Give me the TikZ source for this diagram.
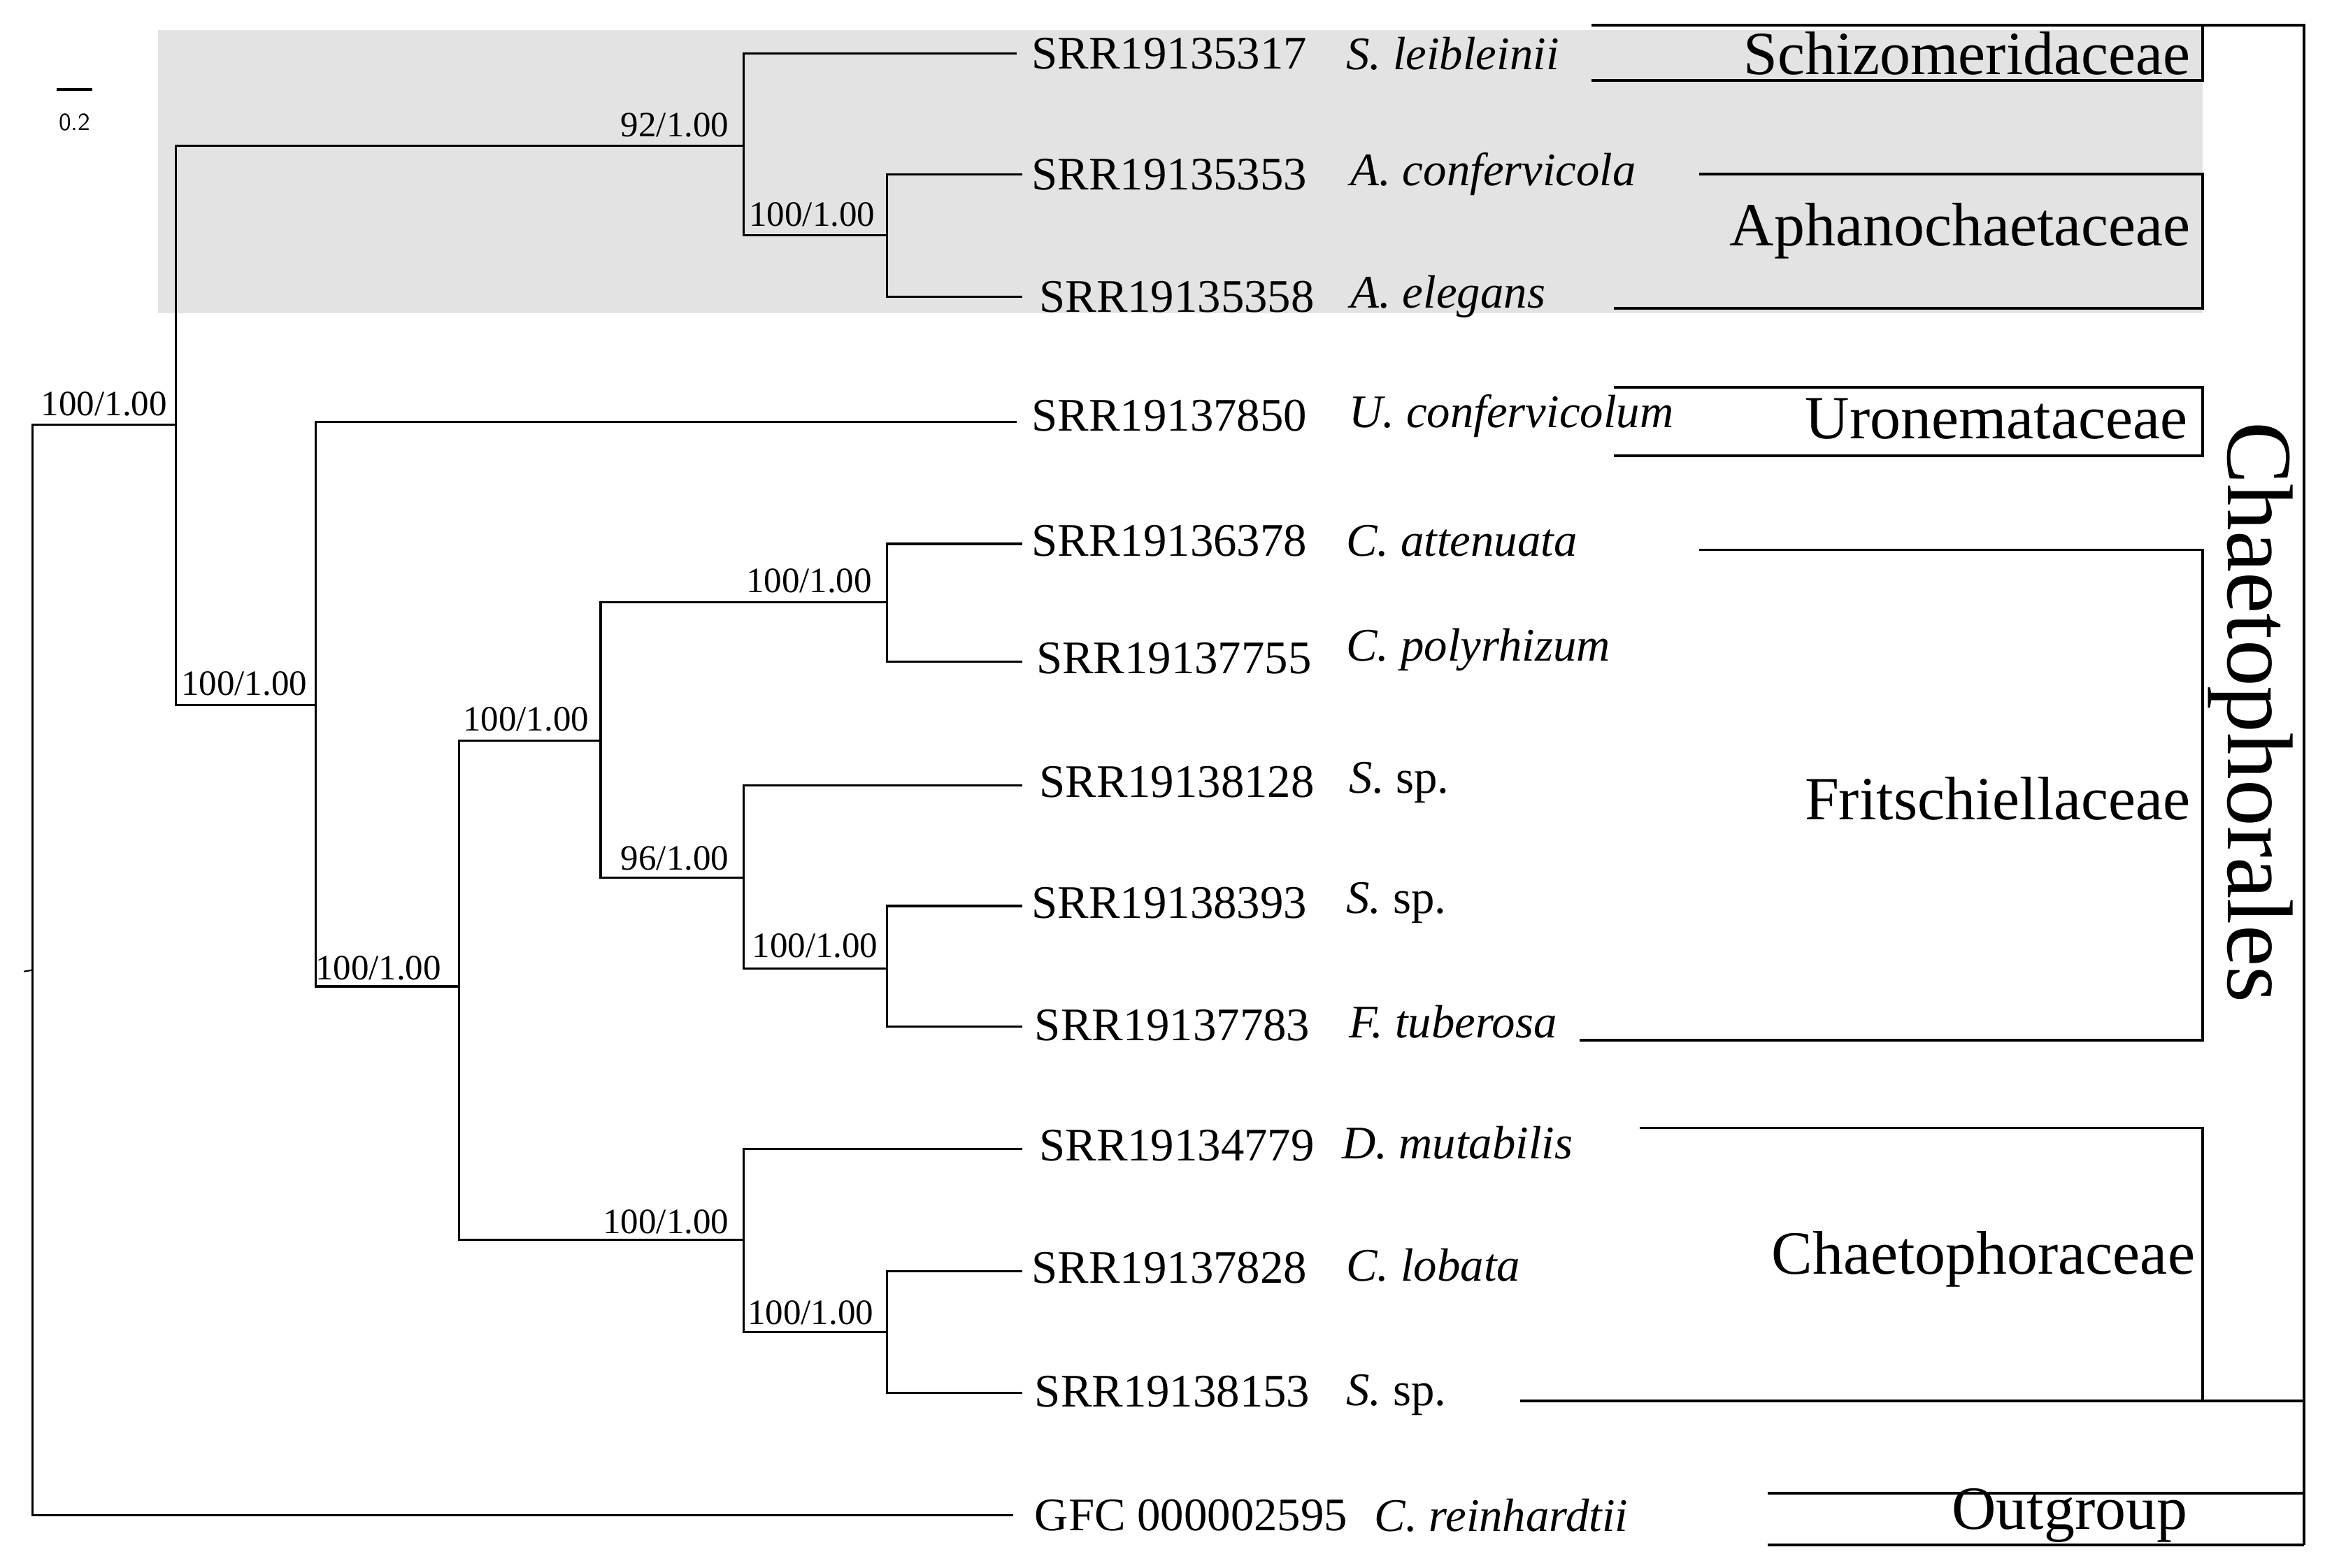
\documentclass[tikz,border=0pt]{standalone}
\usepackage{fontspec}
\setmainfont{Liberation Serif}
\begin{document}
\begin{tikzpicture}[x=0.2131mm,y=-0.2131mm,
  br/.style={line width=0.9pt},
  bx/.style={line width=1.1pt},
  acc/.style={anchor=west,inner sep=0pt,font=\fontsize{19}{19}\selectfont},
  sp/.style={anchor=west,inner sep=0pt,font=\fontsize{19}{19}\selectfont\itshape},
  sup/.style={anchor=south east,inner sep=1pt,font=\fontsize{14.5}{15}\selectfont},
  cl/.style={anchor=east,inner sep=0pt,font=\fontsize{25}{25}\selectfont}]
\useasboundingbox (0,0) rectangle (1560,1052.3);
\fill[gray!22] (106,20) rectangle (1478,210);
% scale bar
\draw[line width=1.2pt] (38,60) -- (62,60);
\node[font=\sffamily\fontsize{10}{10}\selectfont] (scl) at (50,82) {0.2};
% internal nodes
\coordinate (R) at (22,651);
\coordinate (A) at (118,285);
\coordinate (B) at (499,98);
\coordinate (C) at (595,158);
\coordinate (D) at (212,473);
\coordinate (E) at (308,662);
\coordinate (F) at (403,497);
\coordinate (G) at (595,404);
\coordinate (H) at (499,589);
\coordinate (I) at (595,650);
\coordinate (J) at (499,832);
\coordinate (K) at (595,894);
% tips
\coordinate (t1) at (682,36);
\coordinate (t2) at (686,117);
\coordinate (t3) at (686,199);
\coordinate (t4) at (682,283);
\coordinate (t5) at (686,365);
\coordinate (t6) at (686,444);
\coordinate (t7) at (686,527);
\coordinate (t8) at (686,608);
\coordinate (t9) at (686,689);
\coordinate (t10) at (686,771);
\coordinate (t11) at (686,853);
\coordinate (t12) at (686,935);
\coordinate (t13) at (680,1017);
\draw[line width=0.6pt] (16,652) -- (R);
\draw[br] (R) |- (A); \draw[br] (R) |- (t13);
\draw[br] (A) |- (B); \draw[br] (A) |- (D);
\draw[br] (B) |- (t1); \draw[br] (B) |- (C);
\draw[br] (C) |- (t2); \draw[br] (C) |- (t3);
\draw[br] (D) |- (t4); \draw[br] (D) |- (E);
\draw[br] (E) |- (F); \draw[br] (E) |- (J);
\draw[br] (F) |- (G); \draw[br] (F) |- (H);
\draw[br] (G) |- (t5); \draw[br] (G) |- (t6);
\draw[br] (H) |- (t7); \draw[br] (H) |- (I);
\draw[br] (I) |- (t8); \draw[br] (I) |- (t9);
\draw[br] (J) |- (t10); \draw[br] (J) |- (K);
\draw[br] (K) |- (t11); \draw[br] (K) |- (t12);
% support labels
\node[sup] (sR) at (114,281) {100/1.00};
\node[sup] (sB) at (491,94) {92/1.00};
\node[sup] (sC) at (589,154) {100/1.00};
\node[sup] (sD) at (208,469) {100/1.00};
\node[sup] (sE) at (298,660) {100/1.00};
\node[sup] (sF) at (397,493) {100/1.00};
\node[sup] (sG) at (587,400) {100/1.00};
\node[sup] (sH) at (491,586) {96/1.00};
\node[sup] (sI) at (591,645) {100/1.00};
\node[sup] (sJ) at (491,830) {100/1.00};
\node[sup] (sK) at (588,891) {100/1.00};
% tip labels
\node[acc] (a1) at (692,36) {SRR19135317}; \node[sp] (p1) at (903,36) {S. leibleinii};
\node[acc] (a2) at (692,117) {SRR19135353}; \node[sp] (p2) at (906,117) {A. confervicola};
\node[acc] (a3) at (697,199) {SRR19135358}; \node[sp] (p3) at (906,199) {A. elegans};
\node[acc] (a4) at (692,279) {SRR19137850}; \node[sp] (p4) at (905,279) {U. confervicolum};
\node[acc] (a5) at (692,363) {SRR19136378}; \node[sp] (p5) at (903,363) {C. attenuata};
\node[acc] (a6) at (695,442) {SRR19137755}; \node[sp] (p6) at (903,436) {C. polyrhizum};
\node[acc] (a7) at (697,525) {SRR19138128}; \node[sp] (p7) at (905,525) {S.\ \upshape sp.};
\node[acc] (a8) at (692,606) {SRR19138393}; \node[sp] (p8) at (903,606) {S.\ \upshape sp.};
\node[acc] (a9) at (694,688) {SRR19137783}; \node[sp] (p9) at (905,686) {F. tuberosa};
\node[acc] (a10) at (697,769) {SRR19134779}; \node[sp] (p10) at (900,767) {D. mutabilis};
\node[acc] (a11) at (692,851) {SRR19137828}; \node[sp] (p11) at (903,849) {C. lobata};
\node[acc] (a12) at (694,934) {SRR19138153}; \node[sp] (p12) at (903,936) {S.\ \upshape sp.};
\node[acc] (a13) at (694,1017) {GFC 000002595}; \node[sp] (p13) at (922,1017) {C. reinhardtii};
% clade brackets
\draw[bx] (1068,17) -- (1546,17) -- (1546,1037);
\draw[bx] (1068,54) -- (1478,54) -- (1478,17);
\draw[bx] (1140,117) -- (1478,117) -- (1478,207) -- (1083,207);
\draw[bx] (1083,260) -- (1478,260) -- (1478,306) -- (1083,306);
\draw[bx] (1140,369) -- (1478,369) -- (1478,698) -- (1060,698);
\draw[bx] (1100,757) -- (1478,757) -- (1478,940);
\draw[bx] (1020,940) -- (1546,940);
\draw[bx] (1186,1002) -- (1546,1002);
\draw[bx] (1186,1037) -- (1546,1037);
\node[cl] (c1) at (1470,36) {Schizomeridaceae};
\node[cl] (c2) at (1470,155) {Aphanochaetaceae};
\node[cl] (c3) at (1468,281) {Uronemataceae};
\node[cl] (c4) at (1470,536) {Fritschiellaceae};
\node[cl] (c5) at (1473,845) {Chaetophoraceae};
\node[cl] (c6) at (1468,1017) {Outgroup};
\node[rotate=-90,inner sep=0pt,font=\fontsize{38}{38}\selectfont] (ord) at (1510,478) {Chaetophorales};
\end{tikzpicture}
\end{document}
